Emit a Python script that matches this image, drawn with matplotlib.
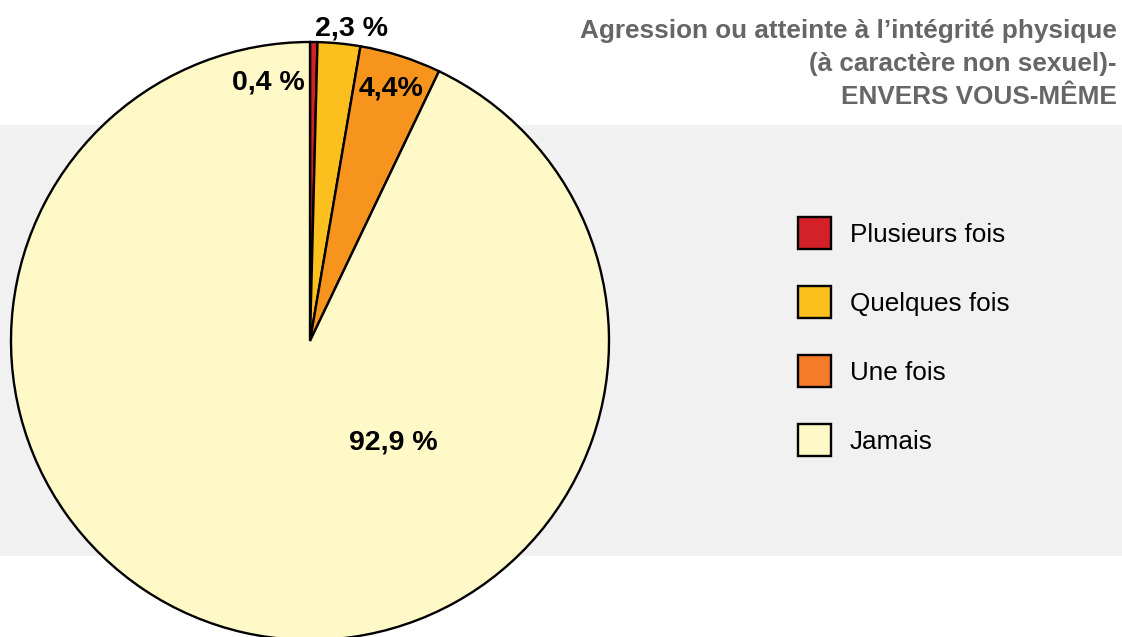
import matplotlib.pyplot as plt
from matplotlib.patches import Rectangle

plt.rcParams['font.family'] = ['Liberation Sans', 'DejaVu Sans']

categories = ['Plusieurs fois', 'Quelques fois', 'Une fois', 'Jamais']
values = [0.4, 2.3, 4.4, 92.9]
pie_colors = ['#D42027', '#FBBF1E', '#F7941D', '#FFF9C7']
legend_colors = ['#D42027', '#FBBF1E', '#F47B2A', '#FFF9C7']
value_labels = ['0,4 %', '2,3 %', '4,4%', '92,9 %']
title_lines = ["Agression ou atteinte à l’intégrité physique",
               "(à caractère non sexuel)-",
               "ENVERS VOUS-MÊME"]

W, H = 1122, 637
fig = plt.figure(figsize=(W / 100, H / 100), dpi=100, facecolor='white')
ax = fig.add_axes([0, 0, 1, 1])

# gray band behind everything
ax.add_patch(Rectangle((0, H - 556), W, 556 - 125, facecolor='#F1F1F1',
                       edgecolor='none', zorder=0))

cx, cy, r = 310, H - 341, 299
wedges, _ = ax.pie(values, colors=pie_colors, startangle=90, counterclock=False,
                   center=(cx, cy), radius=r, frame=True,
                   wedgeprops=dict(edgecolor='black', linewidth=1.7))
for w in wedges:
    w.set_zorder(2)
ax.set_xlim(0, W)
ax.set_ylim(0, H)
ax.set_aspect('equal')
ax.axis('off')

# value labels (baseline positions)
label_pos = [(268, 89), (352, 35), (391, 95), (393, 450)]
for txt, (x, y) in zip(value_labels, label_pos):
    ax.text(x, H - y, txt, ha='center', va='baseline', fontsize=20.5,
            fontweight='bold', color='black', zorder=5)

for i, line in enumerate(title_lines):
    ax.text(1117, H - (38 + 33 * i), line, ha='right', va='baseline',
            fontsize=18.8, fontweight='bold', color='#666666', zorder=5)

# legend
for i, (cat, col) in enumerate(zip(categories, legend_colors)):
    yc = H - (233 + 69 * i)
    ax.add_patch(Rectangle((798, yc - 16), 33, 32, facecolor=col,
                           edgecolor='black', linewidth=1.7, zorder=5))
    ax.text(850, yc - 9, cat, ha='left', va='baseline', fontsize=18.8,
            color='black', zorder=5)

fig.savefig('out.png', dpi=100, facecolor='white')
